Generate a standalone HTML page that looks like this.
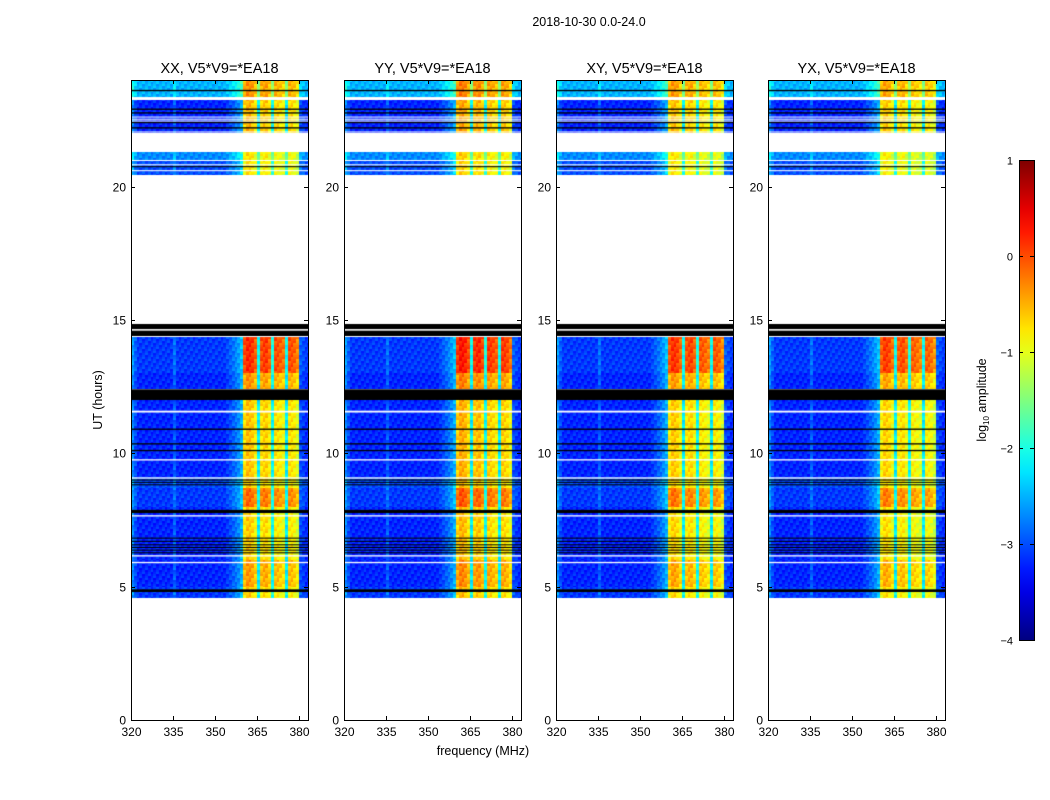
<!DOCTYPE html>
<html><head><meta charset="utf-8"><style>
body{margin:0;background:#fff;width:1050px;height:800px;overflow:hidden;font-family:"Liberation Sans",sans-serif;}
#wrap{position:relative;width:1050px;height:800px;}
canvas{position:absolute;}
</style></head><body><div id="wrap">
<svg id="svg" width="1050" height="800" style="position:absolute;left:0;top:0"></svg>
</div>
<script>
// ---- data ----
const panelTitles = ["XX, V5*V9=*EA18","YY, V5*V9=*EA18","XY, V5*V9=*EA18","YX, V5*V9=*EA18"];
const panelLeft = [131,344,556,768];
const freqStart = 320; // MHz, channel i = 320+i
const spectrum = [-2.7,-3.0,-3.2,-3.2,-3.2,-3.2,-3.2,-3.2,-3.2,-3.2,-3.2,-3.2,-3.2,-3.2,-3.2,-2.9,
 -3.2,-3.2,-3.2,-3.2,-3.2,-3.2,-3.2,-3.2,-3.2,-3.2,-3.2,-3.2,-3.2,-3.2,-3.2,-3.2,-3.2,-3.2,
 -3.1,-3.0,-2.9,-2.8,-2.7,-2.5,
 -0.9,-0.7,-0.7,-0.8,-1.0,-2.2,-0.9,-0.8,-0.8,-1.0,-2.1,-0.9,-0.9,-1.0,-1.1,-2.2,-0.9,-0.9,-1.0,-1.2,
 -3.0,-3.1,-3.2,-3.2];
const panelBandOffset = [0, 0.1, -0.05, -0.1];
// data segments (hours): start, end, offset of off-band channels, boost of in-band channels
const segStart = [4.57,5.0,6.0,8.0,8.7,9.1,12.4,13.0,20.45,21.0,22.0,23.3];
const segEnd   = [5.0, 6.0,8.0,8.7,9.1,12.0,13.0,14.36,21.0,21.3,23.3,24.0];
const segOffset= [0.1, 0, 0, 0.1, 0.2, 0, 0, 0.1, 0.2, 0.5, 0, 0.7];
const segBoost = [0.1, 0.35, 0.1, 0.6, 0.1, 0.15, 0.4, 0.9, 0, 0, 0.2, 0.4];
const blackStart=[14.4,12.0,10.88,10.33,10.08,8.8,8.9,8.98,7.76,6.8,6.68,6.55,6.45,6.35,6.25,4.8,23.58,22.88,22.74,22.38,22.18,20.73];
const blackEnd  =[14.85,12.4,10.93,10.38,10.13,8.84,8.93,9.02,7.88,6.84,6.72,6.59,6.49,6.39,6.29,4.9,23.63,22.93,22.79,22.43,22.23,20.77];
const whiteStart=[14.6,11.53,9.73,9.05,7.63,6.13,5.88,23.25,22.6,22.52,22.45,22.03,20.97,20.8,20.58];
const whiteEnd  =[14.66,11.6,9.78,9.1,7.68,6.18,5.93,23.36,22.63,22.55,22.48,22.07,21.0,20.84,20.62];
const xTicks=[320,335,350,365,380];
const yTicks=[0,5,10,15,20];
const cbTicks=[1,0,-1,-2,-3,-4];
// ---- scales ----
const PT=80,PB=720,PW=177;
const yScale=h=>PB-(h/24)*(PB-PT);
const xScale=(f,p)=>panelLeft[p]+(f-320)*2.8;
function jet(v){const t=Math.max(0,Math.min(1,(v+4)/5));
 const r=Math.max(0,Math.min(1,1.5-Math.abs(4*t-3))),g=Math.max(0,Math.min(1,1.5-Math.abs(4*t-2))),b=Math.max(0,Math.min(1,1.5-Math.abs(4*t-1)));
 return `rgb(${r*255|0},${g*255|0},${b*255|0})`;}
const wrap=document.getElementById('wrap');
const svg=document.getElementById('svg');const NS="http://www.w3.org/2000/svg";
function txt(x,y,s,anchor,size,name){const e=document.createElementNS(NS,'text');e.setAttribute('x',x);e.setAttribute('y',y);e.setAttribute('text-anchor',anchor);e.setAttribute('font-size',size);e.setAttribute('font-family','Liberation Sans, sans-serif');e.textContent=s;
 
 
 svg.appendChild(e);return e;}
function line(x1,y1,x2,y2,name){const e=document.createElementNS(NS,'line');e.setAttribute('x1',x1);e.setAttribute('y1',y1);e.setAttribute('x2',x2);e.setAttribute('y2',y2);e.setAttribute('stroke','#000');e.setAttribute('stroke-width',1);
 
 
 svg.appendChild(e);}
panelLeft.forEach((L,p)=>{
 const cv=document.createElement('canvas');cv.width=PW;cv.height=PB-PT;cv.style.left=L+'px';cv.style.top=PT+'px';
 
 
 wrap.insertBefore(cv,svg);
 const c=cv.getContext('2d');
 segStart.forEach((s,k)=>{
  const y0=Math.round(yScale(segEnd[k])-PT),y1=Math.round(yScale(s)-PT);
  spectrum.forEach((v,i)=>{
   const band=v>-1.5;
   const x0=Math.round(xScale(freqStart+i,p)-L),x1=Math.min(PW,Math.round(xScale(freqStart+i+1,p)-L));
   for(let y=y0;y<y1;y+=2){
    const tex=(((i*7+y*13)%5)-2)*0.08;
    const val=band? v+segBoost[k]+panelBandOffset[p]+tex : v+segOffset[k]+tex;
    c.fillStyle=jet(val);c.fillRect(x0,y,x1-x0,Math.min(2,y1-y));
   }
  });
 });
 c.fillStyle='#000';blackStart.forEach((s,k)=>{const y0=yScale(blackEnd[k])-PT,y1=yScale(s)-PT;c.fillRect(0,y0,PW,Math.max(1,y1-y0));});
 c.fillStyle='#fff';whiteStart.forEach((s,k)=>{const y0=yScale(whiteEnd[k])-PT,y1=yScale(s)-PT;c.fillRect(0,y0,PW,Math.max(1,y1-y0));});
 const r=document.createElementNS(NS,'rect');r.setAttribute('x',L+0.5);r.setAttribute('y',PT+0.5);r.setAttribute('width',PW);r.setAttribute('height',PB-PT);r.setAttribute('fill','none');r.setAttribute('stroke','#000');
 
 
 svg.appendChild(r);
 txt(L+PW/2,73,panelTitles[p],'middle',14.5,'panel-title');
 yTicks.forEach(h=>{const y=Math.round(yScale(h))+0.5;line(L,y,L+4,y,'y-tick');line(L+PW-4,y,L+PW,y,'y-tick');txt(L-5,y+4,String(h),'end',12,'y-tick-label');});
 xTicks.forEach(f=>{const x=Math.round(xScale(f,p))+0.5;line(x,PB,x,PB-4,'x-tick');line(x,PT,x,PT+4,'x-tick');txt(x,PB+16,String(f),'middle',12,'x-tick-label');});
});
txt(589,26,'2018-10-30 0.0-24.0','middle',12.5,'figure-title');
txt(483,755,'frequency (MHz)','middle',12.5,'x-axis-title');
const yl=txt(0,0,'UT (hours)','middle',12.5,'y-axis-title');yl.setAttribute('transform','translate(102,400) rotate(-90)');
// colorbar
const grad=document.createElementNS(NS,'defs');grad.innerHTML='<linearGradient id="g" x1="0" y1="1" x2="0" y2="0"></linearGradient>';svg.appendChild(grad);
const lg=grad.firstChild;for(let i=0;i<=20;i++){const st=document.createElementNS(NS,'stop');st.setAttribute('offset',i/20);st.setAttribute('stop-color',jet(-4+i*0.25));lg.appendChild(st);}
const cb=document.createElementNS(NS,'rect');cb.setAttribute('x',1019.5);cb.setAttribute('y',160.5);cb.setAttribute('width',15);cb.setAttribute('height',480);cb.setAttribute('fill','url(#g)');cb.setAttribute('stroke','#000');


svg.appendChild(cb);
cbTicks.forEach(v=>{const y=Math.round(640-(v+4)/5*480)+0.5;line(1019,y,1023,y,'colorbar-tick');line(1030,y,1034,y,'colorbar-tick');txt(1013,y+4,v<0?'\u2212'+(-v):String(v),'end',11,'colorbar-tick-label');});
const cl=txt(0,0,'','middle',12.5,'colorbar-title');cl.innerHTML='log<tspan font-size="8" dy="3">10</tspan><tspan dy="-3"> amplitude</tspan>';cl.setAttribute('transform','translate(986,400) rotate(-90)');
</script></body></html>
